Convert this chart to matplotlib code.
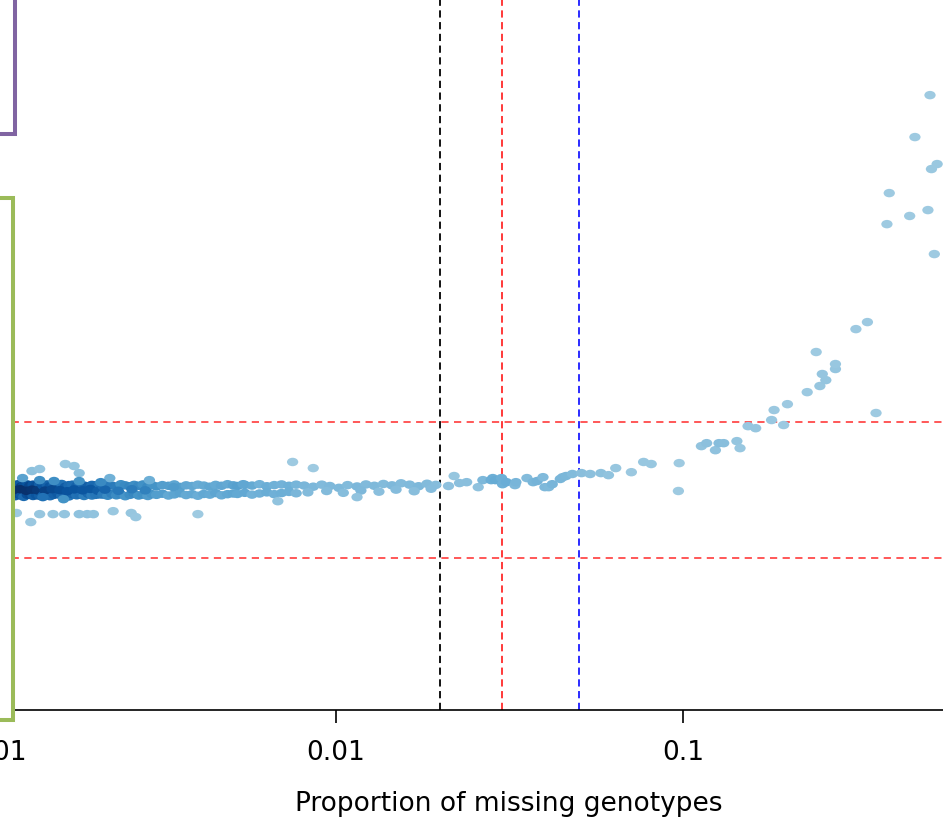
import numpy as np
import matplotlib.pyplot as plt
from matplotlib.path import Path
from matplotlib.transforms import Affine2D
from matplotlib.patches import Rectangle
from matplotlib.colors import LinearSegmentedColormap

# samples in the main band: proportion of missing genotypes / heterozygosity score
band_miss = [
    0.00100, 0.00102, 0.00104, 0.00106, 0.00108, 0.00110, 0.00112, 0.00115, 0.00117,
    0.00119, 0.00122, 0.00124, 0.00126, 0.00129, 0.00131, 0.00134, 0.00137, 0.00140,
    0.00100, 0.00102, 0.00104, 0.00106, 0.00108, 0.00110, 0.00112, 0.00115, 0.00117,
    0.00119, 0.00122, 0.00124, 0.00126, 0.00129, 0.00131, 0.00134, 0.00137, 0.00140,
    0.00101, 0.00105, 0.00109, 0.00113, 0.00118, 0.00123, 0.00128, 0.00133, 0.00138,
    0.00143, 0.00147, 0.0015, 0.00154, 0.00158, 0.00162, 0.00166, 0.0017,
    0.00174, 0.00179, 0.00183, 0.00188, 0.00193, 0.00198, 0.00203, 0.00208,
    0.00143, 0.00147, 0.0015, 0.00154, 0.00158, 0.00162, 0.00166, 0.0017,
    0.00174, 0.00179, 0.00183, 0.00188, 0.00193, 0.00198, 0.00203, 0.00208,
    0.00145, 0.00152, 0.0016, 0.00168, 0.00176, 0.00186, 0.00196, 0.00206,
    0.00213, 0.0022, 0.00226, 0.00233, 0.0024, 0.00247, 0.00255, 0.00262, 0.0027, 0.00278, 0.00287, 0.00295,
    0.00213, 0.0022, 0.00226, 0.00233, 0.0024, 0.00247, 0.00255, 0.00262, 0.0027, 0.00278, 0.00287, 0.00295,
    0.00216, 0.00236, 0.00258, 0.00282,
    0.00304, 0.00316, 0.00329, 0.00342, 0.00356, 0.0037, 0.00385,
    0.004, 0.00416, 0.00433, 0.0045, 0.00468, 0.00487, 0.00506,
    0.00304, 0.00316, 0.00329, 0.00342, 0.00356, 0.0037, 0.00385,
    0.004, 0.00416, 0.00433, 0.0045, 0.00468, 0.00487, 0.00506,
    0.0052, 0.00546, 0.00573, 0.00602, 0.00632, 0.00664, 0.00697, 0.00732, 0.00768,
    0.0052, 0.00546, 0.00573, 0.00602, 0.00632, 0.00664, 0.00697, 0.00732, 0.00768,
    0.0081, 0.0086, 0.0091, 0.0096, 0.0102, 0.0108, 0.0115, 0.0122,
    0.0129, 0.0137, 0.0145, 0.0154, 0.0163, 0.0173, 0.0183, 0.0194,
    0.0083, 0.0094, 0.0105, 0.0118, 0.0133, 0.0149, 0.0168, 0.0188,
]
band_het = [
    0.24, 0.19, 0.26, 0.21, 0.17, 0.25, 0.2, 0.28, 0.18,
    0.23, 0.27, 0.16, 0.22, 0.25, 0.19, 0.24, 0.2, 0.26,
    -0.21, -0.26, -0.18, -0.24, -0.29, -0.2, -0.25, -0.17, -0.23,
    -0.27, -0.19, -0.24, -0.3, -0.21, -0.18, -0.26, -0.22, -0.25,
    0.03, -0.02, 0.05, -0.04, 0.01, 0.04, -0.03, 0.02, -0.01,
    0.2, 0.25, 0.17, 0.23, 0.19, 0.27, 0.15, 0.22,
    0.24, 0.18, 0.26, 0.2, 0.16, 0.23, 0.21, 0.25,
    -0.24, -0.19, -0.27, -0.21, -0.17, -0.25, -0.22, -0.28,
    -0.18, -0.23, -0.2, -0.26, -0.16, -0.24, -0.21, -0.19,
    -0.02, 0.04, 0.0, -0.05, 0.03, -0.01, 0.05, -0.03,
    0.18, 0.24, 0.2, 0.15, 0.26, 0.21, 0.17, 0.23, 0.19, 0.25, 0.16, 0.22,
    -0.2, -0.25, -0.17, -0.23, -0.19, -0.27, -0.21, -0.16, -0.24, -0.2, -0.26, -0.18,
    0.02, -0.03, 0.04, -0.01,
    0.16, 0.22, 0.19, 0.25, 0.14, 0.21, 0.18,
    0.24, 0.2, 0.15, 0.23, 0.19, 0.26, 0.21,
    -0.21, -0.16, -0.24, -0.19, -0.14, -0.22, -0.18,
    -0.25, -0.17, -0.2, -0.13, -0.23, -0.18, -0.15,
    0.18, 0.23, 0.2, 0.26, 0.17, 0.22, 0.25, 0.19, 0.24,
    -0.17, -0.12, -0.2, -0.15, -0.1, -0.18, -0.13, -0.08, -0.14,
    0.2, 0.15, 0.24, 0.18, 0.1, 0.22, 0.16, 0.25,
    0.19, 0.27, 0.21, 0.3, 0.24, 0.17, 0.28, 0.23,
    -0.1, -0.04, -0.12, -0.02, -0.07, 0.02, -0.05, 0.06,
]

# samples beyond the band
out_miss = [
    0.0211, 0.0219, 0.0227, 0.0238, 0.0257, 0.0265, 0.0283, 0.028, 0.0288, 0.030,
    0.0302, 0.031, 0.0328, 0.033, 0.0355, 0.037, 0.038, 0.0395, 0.040, 0.041,
    0.042, 0.0443, 0.045, 0.046, 0.048, 0.051, 0.054, 0.058, 0.061, 0.064,
    0.071, 0.077, 0.081, 0.0975, 0.097,
    0.113, 0.117, 0.124, 0.127, 0.131, 0.143, 0.146, 0.154, 0.162, 0.18,
    0.195, 0.183, 0.20, 0.228, 0.248, 0.258, 0.252, 0.275, 0.275, 0.242,
    0.315, 0.34, 0.36, 0.387, 0.393, 0.45, 0.508, 0.466, 0.515, 0.52,
    0.54, 0.53,
    0.00166, 0.00176, 0.00133, 0.0014, 0.00182, 0.00125, 0.0014, 0.00154, 0.00182, 0.00223,
    0.0021, 0.0029, 0.0034, 0.0075, 0.0086, 0.0054, 0.00164, 0.00143, 0.0068, 0.0115,
    0.0012, 0.0014, 0.00153, 0.00165, 0.00182, 0.00192, 0.002, 0.00228, 0.00257, 0.00265,
    0.004, 0.00132,
]
out_het = [
    0.18, 0.62, 0.31, 0.35, 0.13, 0.44, 0.53, 0.44, 0.44, 0.53,
    0.26, 0.35, 0.22, 0.35, 0.53, 0.35, 0.40, 0.57, 0.13, 0.13,
    0.26, 0.49, 0.57, 0.62, 0.71, 0.75, 0.71, 0.75, 0.66, 0.97,
    0.79, 1.24, 1.15, 1.19, -0.04,
    1.94, 2.07, 1.76, 2.07, 2.07, 2.16, 1.85, 2.82, 2.73, 3.09,
    2.87, 3.53, 3.79, 4.32, 4.59, 4.85, 5.12, 5.34, 5.56, 6.09,
    7.10, 7.41, 3.40, 11.73, 13.10, 12.09, 12.35, 15.57, 17.42, 14.16,
    14.38, 10.41,
    1.15, 1.06, 0.84, 0.93, 0.75, 0.53, 0.44, 0.40, 0.40, 0.53,
    0.35, 0.44, 0.13, 1.24, 0.97, 0.26, -0.40, -0.31, -0.49, -0.31,
    -1.01, -1.06, -1.06, -1.06, -1.06, -1.06, -1.06, -0.93, -1.01, -1.19,
    -1.06, -1.41,
]

miss_cutoffs = [0.02, 0.03, 0.05]
cutoff_colors = ['black', '#ff2a2a', '#1a1aff']
het_limits = [-3, 3]
tick_vals = [0.001, 0.01, 0.1]
tick_labels = ['0.001', '0.01', '0.1']

miss = np.array(band_miss + out_miss)
het = np.array(band_het + out_het)

# colour by local density, like densCols in R
bw_x, bw_y = 0.03, 0.26
lx = np.log10(miss)
dx = (lx[:, None] - lx[None, :]) / bw_x
dy = (het[:, None] - het[None, :]) / bw_y
dens = np.exp(-0.5 * (dx ** 2 + dy ** 2)).sum(axis=1)
level = (dens - dens.min()) / (dens.max() - dens.min())
blues = LinearSegmentedColormap.from_list(
    'blues6', ['#9ECAE1', '#6BAED6', '#4292C6', '#2171B5', '#08519C', '#08306B'])
cols = blues(level ** 1.25)

oval = Path.unit_circle().transformed(Affine2D().scale(1, 0.75))

fig = plt.figure(figsize=(9.43, 8.2), dpi=100)
ax = fig.add_axes([-0.05, 0.1329, 1.05, 0.8671])
ax.set_xscale('log')
ax.set_xlim(0.000787, 0.5614)
ax.set_ylim(-9.70, 21.66)

for h in het_limits:
    ax.axhline(h, color='#ff4a4a', lw=1.3, ls=(0, (4, 3)), zorder=1)
for c, col in zip(miss_cutoffs, cutoff_colors):
    ax.axvline(c, color=col, lw=1.3, ls=(0, (4, 2.5)), zorder=1)

ax.scatter(miss, het, c=cols, s=66, marker=oval, linewidths=0, zorder=2)

for side in ['top', 'right', 'left']:
    ax.spines[side].set_visible(False)
ax.spines['bottom'].set_linewidth(1.2)
ax.set_yticks([])
ax.set_xticks(tick_vals, tick_labels)
ax.xaxis.set_minor_locator(plt.NullLocator())
ax.tick_params(axis='x', length=9, width=1.2, labelsize=19, pad=12)
ax.set_xlabel('Proportion of missing genotypes', fontsize=19)
ax.xaxis.set_label_coords(0.5617, -0.1125)

# pieces of neighbouring boxes cut off at the left edge
fig.add_artist(Rectangle((-0.05, 0.8354), 0.0659, 0.25, transform=fig.transFigure,
                         facecolor='white', edgecolor='#8064a2', lw=2.9, zorder=10))
fig.add_artist(Rectangle((-0.05, 0.1213), 0.0643, 0.636, transform=fig.transFigure,
                         facecolor='white', edgecolor='#9bbb59', lw=2.9, zorder=10))

fig.savefig('out.png', dpi=100, facecolor='white')
